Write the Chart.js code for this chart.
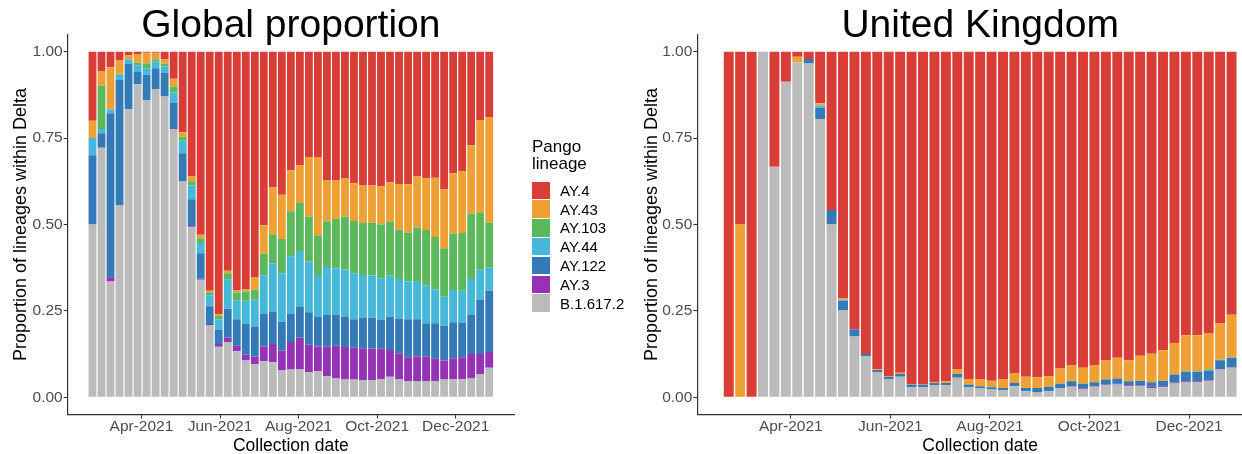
<!DOCTYPE html>
<html>
<head>
<meta charset="utf-8">
<script src="https://cdn.jsdelivr.net/npm/chart.js@4.4.1/dist/chart.umd.min.js"></script>
<style>
  html, body { margin:0; padding:0; background:#fff; width:1242px; height:454px; overflow:hidden; }
  #stage { position:relative; width:1242px; height:454px; overflow:hidden; font-family:"Liberation Sans", Arial, sans-serif; }
  #cGlobal { position:absolute; left:0; top:0; }
  #cUK { position:absolute; left:620px; top:0; }
  .lgTitle { position:absolute; left:532px; font-size:17px; color:#000; line-height:17px; white-space:nowrap; }
  .lgKey { position:absolute; left:532px; width:17.5px; height:17.5px; }
  .lgLab { position:absolute; left:560px; font-size:15px; color:#000; line-height:17px; white-space:nowrap; }
</style>
</head>
<body>
<div id="stage">
  <canvas id="cGlobal" width="582" height="454"></canvas>
  <canvas id="cUK" width="650" height="454"></canvas>
  <div id="legend"></div>
</div>
<script>
// ---------- categories / ticks ----------
const weeks = ['2021-02-22','2021-03-01','2021-03-08','2021-03-15','2021-03-22','2021-03-29',
  '2021-04-05','2021-04-12','2021-04-19','2021-04-26','2021-05-03','2021-05-10','2021-05-17',
  '2021-05-24','2021-05-31','2021-06-07','2021-06-14','2021-06-21','2021-06-28','2021-07-05',
  '2021-07-12','2021-07-19','2021-07-26','2021-08-02','2021-08-09','2021-08-16','2021-08-23',
  '2021-08-30','2021-09-06','2021-09-13','2021-09-20','2021-09-27','2021-10-04','2021-10-11',
  '2021-10-18','2021-10-25','2021-11-01','2021-11-08','2021-11-15','2021-11-22','2021-11-29',
  '2021-12-06','2021-12-13','2021-12-20','2021-12-27'];
const monthTickDates = ['2021-04-01','2021-06-01','2021-08-01','2021-10-01','2021-12-01'];
const monthTickLabels = ['Apr-2021','Jun-2021','Aug-2021','Oct-2021','Dec-2021'];
const yTickValues = [0, 0.25, 0.5, 0.75, 1];
const lineages = ['AY.4','AY.43','AY.103','AY.44','AY.122','AY.3','B.1.617.2'];
const lineageColors = ['#D83D38','#EFA034','#5CB85C','#46B8DA','#337AB7','#9632B6','#BBBBBB'];

// ---------- Global proportion ----------
const globalAY4 = [0.200,0.056,0.045,0.024,0.010,0.007,0.003,0.003,0.021,0.078,
  0.233,0.361,0.530,0.692,0.759,0.634,0.691,0.687,0.652,0.502,
  0.393,0.414,0.344,0.329,0.306,0.305,0.373,0.373,0.367,0.381,
  0.387,0.387,0.390,0.378,0.383,0.384,0.361,0.367,0.365,0.398,
  0.352,0.347,0.271,0.199,0.190];
const globalAY43 = [0.050,0.042,0.122,0.040,0.012,0.025,0.031,0.019,0.013,0.023,
  0.013,0.014,0.010,0.004,0.005,0.007,0.006,0.007,0.037,0.083,
  0.135,0.128,0.118,0.109,0.171,0.226,0.118,0.111,0.110,0.109,
  0.109,0.108,0.110,0.114,0.132,0.139,0.148,0.149,0.171,0.171,
  0.174,0.178,0.197,0.266,0.304];
const globalAY103 = [0,0.126,0,0.003,0,0.007,0.014,0.007,0.009,0.017,
  0.012,0.012,0.014,0.009,0.010,0.019,0.024,0.027,0.029,0.062,
  0.084,0.099,0.130,0.139,0.130,0.115,0.132,0.143,0.153,0.151,
  0.150,0.153,0.156,0.155,0.143,0.142,0.155,0.160,0.152,0.140,
  0.164,0.167,0.190,0.166,0.130];
const globalAY44 = [0.050,0.012,0.011,0.015,0.014,0.020,0.019,0.019,0.018,0.029,
  0.036,0.040,0.029,0.032,0.030,0.084,0.053,0.067,0.077,0.111,
  0.141,0.141,0.166,0.162,0.147,0.122,0.139,0.135,0.138,0.133,
  0.124,0.122,0.120,0.120,0.114,0.109,0.110,0.110,0.098,0.084,
  0.093,0.092,0.104,0.086,0.068];
const globalAY122 = [0.200,0.042,0.475,0.363,0.130,0.035,0.073,0.060,0.069,0.077,
  0.082,0.078,0.074,0.051,0.042,0.083,0.077,0.089,0.087,0.095,
  0.093,0.083,0.082,0.088,0.094,0.085,0.092,0.089,0.087,0.083,
  0.088,0.089,0.084,0.096,0.101,0.110,0.108,0.097,0.103,0.101,
  0.104,0.100,0.113,0.158,0.177];
const globalAY3 = [0,0,0.012,0,0,0,0,0,0,0,
  0,0.003,0.003,0.003,0.008,0.013,0.016,0.017,0.022,0.043,
  0.053,0.058,0.080,0.093,0.080,0.072,0.085,0.095,0.094,0.092,
  0.092,0.091,0.087,0.078,0.074,0.069,0.071,0.070,0.064,0.055,
  0.060,0.063,0.071,0.058,0.046];
const globalB16172 = [0.500,0.722,0.335,0.555,0.834,0.906,0.860,0.892,0.870,0.776,
  0.624,0.492,0.340,0.209,0.146,0.160,0.133,0.106,0.096,0.104,
  0.101,0.077,0.080,0.080,0.072,0.075,0.061,0.054,0.051,0.051,
  0.050,0.050,0.053,0.059,0.053,0.047,0.047,0.047,0.047,0.051,
  0.053,0.053,0.054,0.067,0.085];

// ---------- United Kingdom ----------
const ukAY4 = [1,0.5,1,0,0.333,0.087,0.015,0.021,0.149,0.458,
  0.714,0.804,0.875,0.919,0.939,0.929,0.962,0.963,0.957,0.954,
  0.918,0.947,0.949,0.952,0.949,0.930,0.941,0.942,0.939,0.917,
  0.908,0.915,0.908,0.894,0.886,0.893,0.880,0.874,0.864,0.843,
  0.821,0.821,0.814,0.787,0.761];
const ukAY43 = [0,0.5,0,0,0,0,0.016,0,0.007,0,
  0.004,0,0,0.002,0.002,0.004,0.001,0.001,0.002,0.005,
  0.015,0.016,0.019,0.019,0.024,0.029,0.032,0.031,0.031,0.044,
  0.046,0.046,0.049,0.055,0.060,0.061,0.072,0.083,0.088,0.091,
  0.103,0.103,0.105,0.104,0.123];
const ukAY103 = [0,0,0,0,0,0,0,0,0,0,
  0,0,0,0,0,0,0,0,0,0,
  0,0,0,0,0,0,0,0,0,0,
  0,0,0,0,0,0,0,0,0,0,
  0.002,0.002,0.003,0.002,0.002];
const ukAY44 = [0,0,0,0,0,0,0,0,0.006,0,
  0.003,0,0,0,0,0,0,0,0,0,
  0,0,0,0,0,0,0,0,0,0,
  0,0,0,0,0,0,0,0,0,0,
  0.001,0.001,0.001,0,0];
const ukAY122 = [0,0,0,0,0,0,0,0.013,0.033,0.042,
  0.028,0.020,0.007,0.006,0.008,0.008,0.008,0.007,0.007,0.006,
  0.011,0.008,0.005,0.007,0.007,0.009,0.010,0.012,0.013,0.012,
  0.014,0.013,0.011,0.014,0.015,0.011,0.014,0.013,0.016,0.024,
  0.027,0.027,0.027,0.025,0.028];
const ukAY3 = [0,0,0,0,0,0,0,0,0,0,
  0,0,0,0,0,0,0,0,0,0,
  0,0,0,0,0,0,0,0,0,0,
  0.002,0.002,0.002,0.002,0.002,0.003,0.002,0.003,0.003,0.002,
  0.002,0.002,0.002,0.002,0.001];
const ukB16172 = [0,0,0,1,0.667,0.913,0.969,0.966,0.805,0.500,
  0.251,0.176,0.118,0.073,0.051,0.059,0.029,0.029,0.034,0.035,
  0.056,0.029,0.027,0.022,0.020,0.032,0.017,0.015,0.017,0.027,
  0.030,0.024,0.030,0.035,0.037,0.032,0.032,0.027,0.029,0.040,
  0.044,0.044,0.048,0.080,0.085];

// ---------- drawing ----------
const FONT = '"Liberation Sans", Arial, sans-serif';
const DAY = 86400000;
function weekPos(d) { return (Date.parse(d) - Date.parse(weeks[0])) / (7 * DAY); }

function buildChart(canvasId, title, series, opt) {
  const datasets = [];
  for (let k = lineages.length - 1; k >= 0; k--) {
    datasets.push({
      label: lineages[k],
      data: weeks.map((w, i) => ({ x: weekPos(w), y: series[k][i] })),
      backgroundColor: lineageColors[k],
      borderWidth: 0,
      categoryPercentage: opt.barFrac,
      barPercentage: 1
    });
  }
  return new Chart(document.getElementById(canvasId), {
    type: 'bar',
    data: { datasets },
    options: {
      responsive: false,
      animation: false,
      devicePixelRatio: 1,
      layout: { padding: { left: 0, right: opt.padRight, top: 0, bottom: 0 } },
      plugins: {
        legend: { display: false },
        tooltip: { enabled: false },
        title: {
          display: true, text: title, fullSize: false, color: '#000',
          font: { family: FONT, size: 39, weight: 'normal', lineHeight: '15px' },
          padding: { top: 18.5, bottom: 0.9 }
        }
      },
      scales: {
        x: {
          type: 'linear', stacked: true, offset: false,
          min: -2.75, max: 46.75,
          grid: { display: true, offset: false, drawOnChartArea: false, drawTicks: true,
                  tickLength: 4, tickColor: '#333', tickWidth: 1.1 },
          border: { display: true, color: '#333', width: 1.2 },
          ticks: { autoSkip: false, maxRotation: 0, minRotation: 0, padding: 0,
                   color: '#4D4D4D', font: { family: FONT, size: 15.5, lineHeight: 1 },
                   callback: (v, i) => monthTickLabels[i] },
          afterBuildTicks: s => { s.ticks = monthTickDates.map(d => ({ value: weekPos(d) })); },
          afterFit: s => { s.height = 39.5; },
          title: { display: true, text: 'Collection date', color: '#000',
                   font: { family: FONT, size: 17.5, lineHeight: 0.8 },
                   padding: { top: 0, bottom: 1.3 } }
        },
        y: {
          type: 'linear', stacked: true, min: -0.05, max: 1.05,
          grid: { display: true, drawOnChartArea: false, drawTicks: true,
                  tickLength: 4, tickColor: '#333', tickWidth: 1.1 },
          border: { display: true, color: '#333', width: 1.2 },
          ticks: { padding: 1, color: '#4D4D4D', font: { family: FONT, size: 15.5 },
                   callback: v => Number(v).toFixed(2) },
          afterBuildTicks: s => { s.ticks = yTickValues.map(v => ({ value: v })); },
          afterFit: s => { s.width = opt.yWidth; },
          title: { display: true, text: 'Proportion of lineages within Delta', color: '#000',
                   font: { family: FONT, size: 18, lineHeight: 1.2 },
                   padding: { top: opt.yTitlePad, bottom: 0 } }
        }
      }
    }
  });
}

buildChart('cGlobal', 'Global proportion',
  [globalAY4, globalAY43, globalAY103, globalAY44, globalAY122, globalAY3, globalB16172],
  { padRight: 68, yWidth: 67.7, yTitlePad: 10.5, barFrac: 0.87 });
buildChart('cUK', 'United Kingdom',
  [ukAY4, ukAY43, ukAY103, ukAY44, ukAY122, ukAY3, ukB16172],
  { padRight: 7, yWidth: 77.3, yTitlePad: 21, barFrac: 0.87 });

// ---------- legend ----------
(function () {
  const lg = document.getElementById('legend');
  const t1 = document.createElement('div'); t1.className = 'lgTitle'; t1.style.top = '138px'; t1.textContent = 'Pango'; lg.appendChild(t1);
  const t2 = document.createElement('div'); t2.className = 'lgTitle'; t2.style.top = '155px'; t2.textContent = 'lineage'; lg.appendChild(t2);
  lineages.forEach((name, i) => {
    const cy = 190.3 + 18.8 * i;
    const key = document.createElement('div'); key.className = 'lgKey';
    key.style.top = (cy - 8.75) + 'px'; key.style.background = lineageColors[i]; lg.appendChild(key);
    const lab = document.createElement('div'); lab.className = 'lgLab';
    lab.style.top = (cy - 8.5) + 'px'; lab.textContent = name; lg.appendChild(lab);
  });
})();
</script>
</body>
</html>
